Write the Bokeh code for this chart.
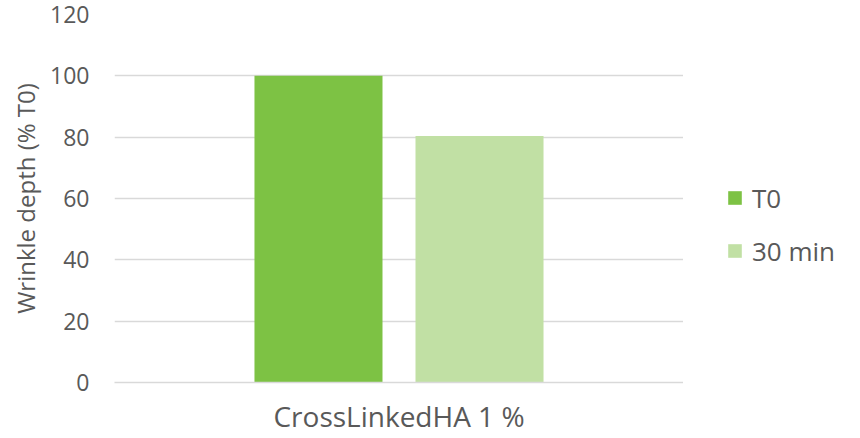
from bokeh.plotting import figure
from bokeh.layouts import row
from bokeh.models import ColumnDataSource, FactorRange, Range1d, Legend, LegendItem, SingleIntervalTicker
from bokeh.transform import dodge
from bokeh.embed import file_html
from bokeh.resources import INLINE

categories = ["CrossLinkedHA 1 %"]
series_names = ["T0", "30 min"]
t0_values = [100]
min30_values = [80.4]
colors = ["#7dc244", "#c1e0a4"]

source = ColumnDataSource(data=dict(cat=categories, t0=t0_values, m30=min30_values))

FONT = "Open Sans"
TXT = "#595959"

x_range = FactorRange(*categories, range_padding=0)
y_range = Range1d(0, 120)

p = figure(width=683, height=438, output_backend="svg", toolbar_location=None,
           x_range=x_range, y_range=y_range,
           min_border_left=114, min_border_right=0, min_border_top=14, min_border_bottom=56)
p.outline_line_color = None
p.background_fill_color = "white"
p.border_fill_color = "white"

bar_kw = dict(width=0.225, source=source, line_color=None)
p.vbar(x=dodge("cat", -0.1415, range=x_range), top="t0", fill_color=colors[0], **bar_kw)
p.vbar(x=dodge("cat", 0.1415, range=x_range), top="m30", fill_color=colors[1], **bar_kw)

p.yaxis.ticker = SingleIntervalTicker(interval=20)
p.yaxis.axis_line_color = None
p.yaxis.major_tick_line_color = None
p.yaxis.minor_tick_line_color = None
p.yaxis.major_tick_out = 0
p.yaxis.major_tick_in = 0
p.yaxis.minor_tick_out = 0
p.yaxis.major_label_text_font = FONT
p.yaxis.major_label_text_font_size = "23px"
p.yaxis.major_label_text_color = TXT
p.yaxis.major_label_standoff = 25
p.yaxis.axis_label = "Wrinkle depth (% T0)"
p.yaxis.axis_label_text_font = FONT
p.yaxis.axis_label_text_font_size = "24px"
p.yaxis.axis_label_text_font_style = "normal"
p.yaxis.axis_label_text_color = TXT
p.yaxis.axis_label_standoff = 5

p.xaxis.axis_line_color = "#d9d9d9"
p.xaxis.axis_line_width = 1.5
p.xaxis.major_tick_line_color = None
p.xaxis.minor_tick_line_color = None
p.xaxis.major_tick_out = 0
p.xaxis.major_tick_in = 0
p.xaxis.minor_tick_out = 0
p.xaxis.major_label_text_font = FONT
p.xaxis.major_label_text_font_size = "28px"
p.xaxis.major_label_text_color = TXT
p.xaxis.major_label_text_line_height = 1.0
p.xaxis.major_label_standoff = 14

p.xgrid.grid_line_color = None
p.ygrid.grid_line_color = "#d9d9d9"
p.ygrid.grid_line_width = 1.5

# Legend panel (separate canvas to the right of the plot area)
p2 = figure(width=177, height=438, output_backend="svg", toolbar_location=None,
            x_range=x_range, y_range=y_range, x_axis_location=None, y_axis_location=None,
            min_border=0)
p2.outline_line_color = None
p2.grid.visible = False
l1 = p2.vbar(x=dodge("cat", -0.1415, range=x_range), top="t0", fill_color=colors[0], visible=False, **bar_kw)
l2 = p2.vbar(x=dodge("cat", 0.1415, range=x_range), top="m30", fill_color=colors[1], visible=False, **bar_kw)

legend = Legend(items=[LegendItem(label=series_names[0], renderers=[l1]),
                       LegendItem(label=series_names[1], renderers=[l2])],
                location=(43, 112), orientation="vertical",
                glyph_width=17, glyph_height=17, label_height=39, label_text_font=FONT,
                label_text_font_size="26px", label_text_color=TXT,
                label_standoff=9, spacing=14, padding=0, margin=0,
                border_line_color=None, background_fill_alpha=0,
                inactive_fill_alpha=0)
p2.add_layout(legend, "center")

layout = row(p, p2, spacing=0)
open("out.html", "w").write(file_html(layout, INLINE))
